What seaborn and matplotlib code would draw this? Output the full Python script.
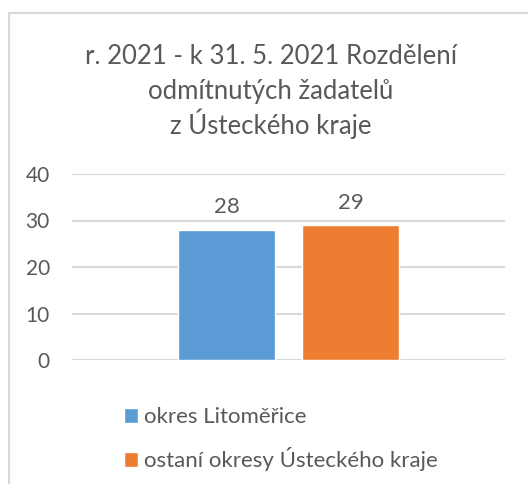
import matplotlib
matplotlib.use("Agg")
import matplotlib.pyplot as plt
import seaborn as sns
import pandas as pd
from matplotlib.patches import Rectangle

categories = ["r. 2021"]
series = ["okres Litoměřice", "ostaní okresy Ústeckého kraje"]
values = [28, 29]
colors = ["#5B9BD5", "#ED7D31"]
title = "r. 2021 - k 31. 5. 2021 Rozdělení\nodmítnutých žadatelů\nz Ústeckého kraje"
yticks = [0, 10, 20, 30, 40]

sns.set_theme(style="white")
plt.rcParams["font.family"] = ["Lato", "DejaVu Sans"]
TXT = "#595959"

df = pd.DataFrame({"cat": categories * len(series), "series": series, "value": values})

fig = plt.figure(figsize=(5.28, 4.84), dpi=100)
ax = fig.add_axes([72/528, 1-360/484, 433/528, 186/484])

sns.barplot(data=df, x="cat", y="value", hue="series", palette=colors,
            width=0.572, gap=0.217, ax=ax, legend=True, saturation=1)

ax.set_ylim(0, 40)
ax.set_xlim(-0.5, 0.5)
ax.set_yticks(yticks)
ax.set_yticklabels([str(t) for t in yticks], color=TXT, fontsize=15)
ax.tick_params(axis="y", length=0, pad=16)
ax.set_xticks([])
ax.set_xlabel("")
ax.set_ylabel("")
for s in ax.spines.values():
    s.set_visible(False)
ax.yaxis.grid(True, color="#D9D9D9", linewidth=1.5)
ax.set_axisbelow(True)

for c in ax.containers:
    ax.bar_label(c, fmt="%d", padding=9, color=TXT, fontsize=16)

handles, labels = ax.get_legend_handles_labels()
ax.get_legend().remove()
leg = fig.legend(handles, labels, loc="upper left", bbox_to_anchor=(115/528, 1-398/484),
                 frameon=False, fontsize=16, handlelength=0.65, handleheight=0.65,
                 handletextpad=0.25, labelspacing=0.9, borderaxespad=0)
for t in leg.get_texts():
    t.set_color(TXT)

for i, line in enumerate(title.split("\n")):
    fig.text(0.513, 1 - (64 + 35 * i) / 484, line, ha="center", va="baseline",
             fontsize=18.5, color=TXT)

fig.patches.append(Rectangle((9/528, -0.5), 2, 0.5 + 1-13/484, transform=fig.transFigure,
                             fill=False, edgecolor="#D9D9D9", linewidth=1.5))

fig.savefig("out.png", dpi=100, facecolor="white")
